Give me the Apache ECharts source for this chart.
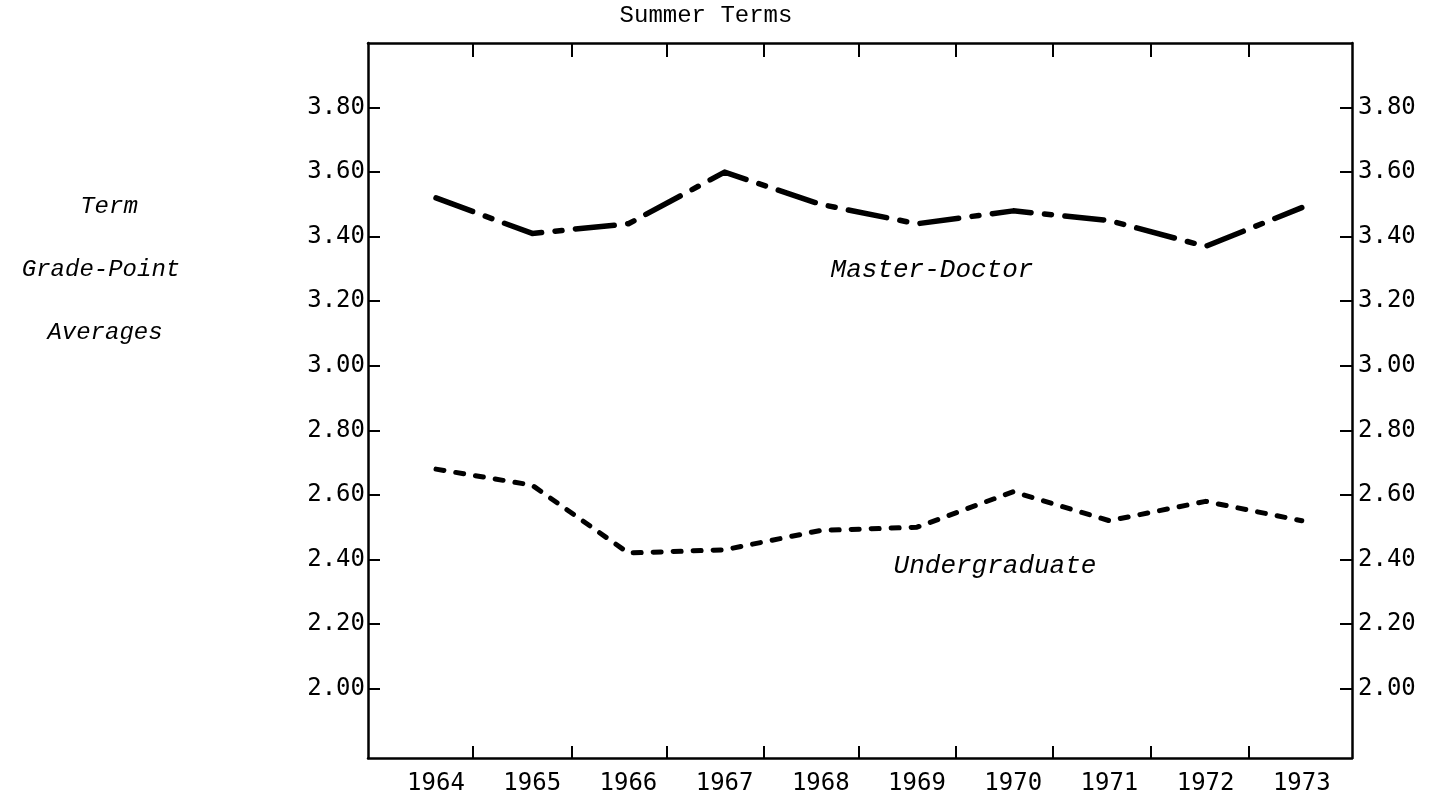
<!DOCTYPE html>
<html>
<head>
<meta charset="utf-8">
<script src="https://cdn.jsdelivr.net/npm/echarts@6/dist/echarts.min.js"></script>
<style>
html,body{margin:0;padding:0;background:#fff;}
#chart{width:1435px;height:797px;}
</style>
</head>
<body>
<div id="chart"></div>
<script>
// ---- data ----
const years = [1964, 1965, 1966, 1967, 1968, 1969, 1970, 1971, 1972, 1973];
const masterDoctor = [3.52, 3.41, 3.44, 3.60, 3.50, 3.44, 3.48, 3.45, 3.37, 3.49];
const undergraduate = [2.68, 2.63, 2.42, 2.43, 2.49, 2.50, 2.61, 2.52, 2.58, 2.52];
const yTickValues = [2.0, 2.2, 2.4, 2.6, 2.8, 3.0, 3.2, 3.4, 3.6, 3.8];
// x tick marks sit between the year labels
const xTickValues = [1964.38, 1965.41, 1966.40, 1967.41, 1968.39, 1969.40, 1970.41, 1971.43, 1972.45];

const font = 'DejaVu Sans Mono';

const chart = echarts.init(document.getElementById('chart'), null, {renderer: 'canvas'});

const axisLineStyle = {color: '#000', width: 2.5};
const tickStyle = {color: '#000', width: 2};

const xBase = {
  type: 'value',
  min: 1963.293,
  max: 1973.522,
  splitLine: {show: false},
  axisLine: {show: true, onZero: false, lineStyle: axisLineStyle}
};
const yBase = {
  type: 'value',
  min: 1.785,
  max: 4.0,
  splitLine: {show: false},
  axisLine: {show: true, onZero: false, lineStyle: axisLineStyle}
};

const option = {
  backgroundColor: '#fff',
  animation: false,
  grid: {left: 368, right: 83, top: 43, bottom: 39, containLabel: false},
  xAxis: [
    Object.assign({}, xBase, {
      position: 'bottom',
      axisTick: {show: true, inside: true, length: 12, customValues: xTickValues, lineStyle: tickStyle},
      axisLabel: {
        show: true, customValues: years, margin: 14,
        formatter: v => String(Math.round(v)),
        color: '#000', fontFamily: font, fontSize: 24
      }
    }),
    Object.assign({}, xBase, {
      position: 'top',
      axisTick: {show: true, inside: true, length: 14, customValues: xTickValues, lineStyle: tickStyle},
      axisLabel: {show: false}
    })
  ],
  yAxis: [
    Object.assign({}, yBase, {
      position: 'left',
      axisTick: {show: true, inside: true, length: 12, customValues: yTickValues, lineStyle: tickStyle},
      axisLabel: {
        show: true, customValues: yTickValues, margin: 3,
        formatter: v => v.toFixed(2),
        color: '#000', fontFamily: font, fontSize: 24
      }
    }),
    Object.assign({}, yBase, {
      position: 'right',
      axisTick: {show: true, inside: true, length: 12, customValues: yTickValues, lineStyle: tickStyle},
      axisLabel: {
        show: true, customValues: yTickValues, margin: 6,
        formatter: v => v.toFixed(2),
        color: '#000', fontFamily: font, fontSize: 24
      }
    })
  ],
  series: [
    {
      name: 'Master-Doctor',
      type: 'line',
      xAxisIndex: 0, yAxisIndex: 0,
      data: years.map((y, i) => [y, masterDoctor[i]]),
      showSymbol: false,
      lineStyle: {color: '#000', width: 5.5, type: [39, 13.5, 7, 13.5], cap: 'round', join: 'round'}
    },
    {
      name: 'Undergraduate',
      type: 'line',
      xAxisIndex: 0, yAxisIndex: 0,
      data: years.map((y, i) => [y, undergraduate[i]]),
      showSymbol: false,
      lineStyle: {color: '#000', width: 5, type: [8, 12], cap: 'round', join: 'round'}
    }
  ],
  graphic: [
    {type: 'text', x: 706, y: 16, style: {text: 'Summer Terms', font: '24px "Liberation Mono"', fill: '#000', textAlign: 'center', textVerticalAlign: 'middle'}},
    {type: 'text', x: 109, y: 207, style: {text: 'Term', font: 'italic 24px "Liberation Mono"', fill: '#000', textAlign: 'center', textVerticalAlign: 'middle'}},
    {type: 'text', x: 101, y: 270, style: {text: 'Grade-Point', font: 'italic 24px "Liberation Mono"', fill: '#000', textAlign: 'center', textVerticalAlign: 'middle'}},
    {type: 'text', x: 105, y: 333, style: {text: 'Averages', font: 'italic 24px "Liberation Mono"', fill: '#000', textAlign: 'center', textVerticalAlign: 'middle'}},
    {type: 'text', x: 932, y: 270, style: {text: 'Master-Doctor', font: 'italic 26px "Liberation Mono"', fill: '#000', textAlign: 'center', textVerticalAlign: 'middle'}},
    {type: 'text', x: 995, y: 566, style: {text: 'Undergraduate', font: 'italic 26px "Liberation Mono"', fill: '#000', textAlign: 'center', textVerticalAlign: 'middle'}}
  ]
};
chart.setOption(option);
</script>
</body>
</html>
